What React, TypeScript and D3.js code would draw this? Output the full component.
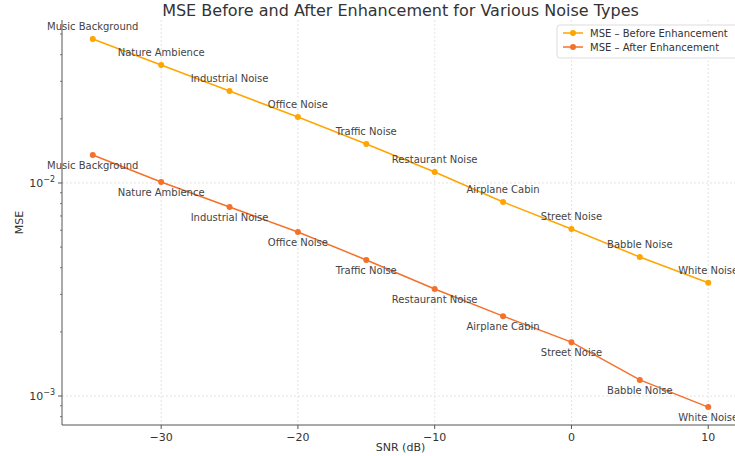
import * as d3 from 'd3'

const noiseTypes = ['Music Background', 'Nature Ambience', 'Industrial Noise', 'Office Noise', 'Traffic Noise',
    'Restaurant Noise', 'Airplane Cabin', 'Street Noise', 'Babble Noise', 'White Noise']
const snr = [-35, -30, -25, -20, -15, -10, -5, 0, 5, 10]
const mseBefore = [0.0474, 0.0358, 0.0270, 0.0204, 0.01524, 0.01126, 0.00814, 0.00608, 0.00449, 0.0034]
const mseAfter = [0.01353, 0.0101, 0.00771, 0.00589, 0.00435, 0.00318, 0.00237, 0.00179, 0.00119, 0.000887]
const xTicks = [-30, -20, -10, 0, 10]
const yTicks = [1e-3, 1e-2]

const W = 735, H = 456
const left = 62, right = 739, top = 20, bottom = 425
const font = 'DejaVu Sans, sans-serif'
const cBefore = '#FFA500'
const cAfter = '#F4712B'

export default function App() {
    const x = d3.scaleLinear().domain([-37.25, 12.25]).range([left, right])
    const y = d3.scaleLog().domain([0.000731, 0.0582]).range([bottom, top])
    const line = d3.line<number>()
        .x((d, i) => x(snr[i]))
        .y(d => y(d))

    const minor: number[] = []
    for (const dec of [1e-4, 1e-3, 1e-2])
        for (let k = 2; k <= 9; k++) {
            const v = dec * k
            if (v > y.domain()[0] && v < y.domain()[1]) minor.push(v)
        }

    const series = [
        { vals: mseBefore, color: cBefore, dy: -9 },
        { vals: mseAfter, color: cAfter, dy: 14 },
    ]

    return (
        <svg width={W} height={H} style={{ position: 'absolute', left: 0, top: 0, background: '#fff' }}
            fontFamily={font}>
            {/* grid */}
            {xTicks.map(t => (
                <line key={'gx' + t} x1={x(t)} x2={x(t)} y1={top} y2={bottom}
                    stroke="#dcdcdc" strokeWidth={0.8} strokeDasharray="2,2" />
            ))}
            {yTicks.map(t => (
                <line key={'gy' + t} x1={left} x2={right} y1={y(t)} y2={y(t)}
                    stroke="#dcdcdc" strokeWidth={0.8} strokeDasharray="2,2" />
            ))}

            {/* series */}
            {series.map((s, si) => (
                <g key={si}>
                    <path d={line(s.vals) || ''} fill="none" stroke={s.color} strokeWidth={1.5} />
                    {s.vals.map((v, i) => (
                        <circle key={i} cx={x(snr[i])} cy={y(v)} r={3} fill={s.color} />
                    ))}
                    {s.vals.map((v, i) => (
                        <text key={'t' + i} x={x(snr[i])} y={y(v) + s.dy} textAnchor="middle"
                            fontSize={10} fill="#444">{noiseTypes[i]}</text>
                    ))}
                </g>
            ))}

            {/* axes */}
            <line x1={left} x2={left} y1={top} y2={bottom} stroke="#555" strokeWidth={1} />
            <line x1={left} x2={right} y1={bottom} y2={bottom} stroke="#555" strokeWidth={1} />
            {xTicks.map(t => (
                <g key={'xt' + t}>
                    <line x1={x(t)} x2={x(t)} y1={bottom} y2={bottom + 4} stroke="#555" />
                    <text x={x(t)} y={bottom + 16} textAnchor="middle" fontSize={11} fill="#333">
                        {t < 0 ? '\u2212' + Math.abs(t) : t}
                    </text>
                </g>
            ))}
            {yTicks.map(t => (
                <g key={'yt' + t}>
                    <line x1={left - 4} x2={left} y1={y(t)} y2={y(t)} stroke="#555" />
                    <text x={left - 7} y={y(t) + 4} textAnchor="end" fontSize={11} fill="#333">
                        10<tspan dy={-5} fontSize={8}>{'\u2212' + Math.round(-Math.log10(t))}</tspan>
                    </text>
                </g>
            ))}
            {minor.map(t => (
                <line key={'m' + t} x1={left - 2} x2={left} y1={y(t)} y2={y(t)} stroke="#555" strokeWidth={0.8} />
            ))}

            {/* labels */}
            <text x={(left + right) / 2} y={16} textAnchor="middle" fontSize={16} fill="#333">
                MSE Before and After Enhancement for Various Noise Types
            </text>
            <text x={(left + right) / 2} y={451} textAnchor="middle" fontSize={11} fill="#333">SNR (dB)</text>
            <text transform={`translate(23,${(top + bottom) / 2}) rotate(-90)`} textAnchor="middle"
                fontSize={11} fill="#333">MSE</text>

            {/* legend */}
            <rect x={557} y={25} width={185} height={33} rx={3} fill="#fff" fillOpacity={0.85}
                stroke="#ddd" />
            {series.map((s, si) => (
                <g key={'l' + si} transform={`translate(563,${33 + si * 14})`}>
                    <line x1={0} x2={20} y1={0} y2={0} stroke={s.color} strokeWidth={1.5} />
                    <circle cx={10} cy={0} r={3} fill={s.color} />
                    <text x={27} y={3.5} fontSize={10} fill="#333">
                        {si === 0 ? 'MSE \u2013 Before Enhancement' : 'MSE \u2013 After Enhancement'}
                    </text>
                </g>
            ))}
        </svg>
    )
}
